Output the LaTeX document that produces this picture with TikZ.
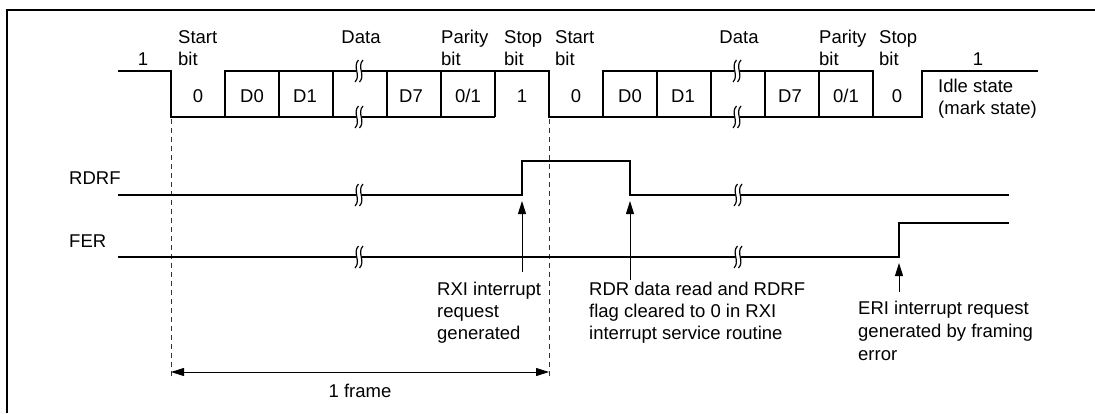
\documentclass[tikz,border=0pt]{standalone}
\usepackage{fontspec}
\setmainfont{Liberation Sans}
\usetikzlibrary{arrows.meta}
\newcommand\brkmark[2]{%
  \fill[white] (#1-3.4,#2-8) rectangle (#1+3.4,#2+8);
  \draw[line width=1.2pt] (#1-0.5,#2-11) .. controls (#1-7,#2-4) and (#1+2.5,#2+4) .. (#1-4,#2+11);
  \draw[line width=1.2pt] (#1+4,#2-11) .. controls (#1-2.5,#2-4) and (#1+7,#2+4) .. (#1+0.5,#2+11);
}
\begin{document}
\begin{tikzpicture}[x=1pt,y=-1pt,
  sig/.style={line width=2.3pt, line join=miter},
  sepline/.style={line width=1.7pt},
  lbl/.style={inner sep=0pt, anchor=base west, font=\fontsize{18.5}{22}\selectfont},
  clbl/.style={inner sep=0pt, anchor=base, font=\fontsize{18.5}{22}\selectfont},
  guide/.style={line width=1pt, dash pattern=on 5pt off 4pt, draw=black!80},
  ptr/.style={line width=1pt, -{Triangle[length=13pt,width=8pt]}},
  dimline/.style={line width=1pt, {Triangle[length=13pt,width=8pt]}-{Triangle[length=13pt,width=8pt]}},
  framebox/.style={line width=2.2pt}
]
\useasboundingbox (0,0) rectangle (1095,413);
% outer frame (top and left only)
\draw[framebox] (7,413) -- (7,10) -- (1095,10);

% ---------- serial data waveform ----------
\draw[sig] (118,71) -- (171,71) -- (171,117) -- (495,117);
\draw[sig] (225,117) -- (225,71) -- (549,71) -- (549,117) -- (922,117) -- (922,71) -- (1038,71);
\draw[sig] (603,117) -- (603,71) -- (873,71) -- (873,117);
\foreach \xx in {279,333,387,441,495,657,711,765,819}
  \draw[sepline] (\xx,71) -- (\xx,117);
\brkmark{359}{71}\brkmark{359}{117}
\brkmark{737}{71}\brkmark{737}{117}

% frame guides
\draw[guide] (171,119) -- (171,377);
\draw[guide] (549,119) -- (549,377);

% ---------- RDRF ----------
\draw[sig] (118,195) -- (522,195) -- (522,161) -- (630,161) -- (630,195) -- (1009,195);
\brkmark{359}{195}\brkmark{738}{195}
% ---------- FER ----------
\draw[sig] (118,257) -- (899,257) -- (899,223) -- (1009,223);
\brkmark{359}{257}\brkmark{738}{257}

% ---------- labels, top ----------
\node[clbl] (one1) at (143,65) {1};
\node[lbl] (st1a) at (178,43) {Start};
\node[lbl] (st1b) at (178,65) {bit};
\node[clbl] (da1) at (361,43) {Data};
\node[lbl] (pa1a) at (441,43) {Parity};
\node[lbl] (pa1b) at (441,65) {bit};
\node[lbl] (sp1a) at (504,43) {Stop};
\node[lbl] (sp1b) at (504,65) {bit};
\node[lbl] (st2a) at (555,43) {Start};
\node[lbl] (st2b) at (555,65) {bit};
\node[clbl] (da2) at (739,43) {Data};
\node[lbl] (pa2a) at (819,43) {Parity};
\node[lbl] (pa2b) at (819,65) {bit};
\node[lbl] (sp2a) at (879,43) {Stop};
\node[lbl] (sp2b) at (879,65) {bit};
\node[clbl] (one2) at (978,65) {1};
\node[lbl] (idle1) at (938,92) {Idle state};
\node[lbl] (idle2) at (938,114) {(mark state)};

% bit values
\node[clbl] (b10) at (198,102) {0};
\node[clbl] (b1d0) at (252,102) {D0};
\node[clbl] (b1d1) at (305,102) {D1};
\node[clbl] (b1d7) at (411,102) {D7};
\node[clbl] (b1p) at (468,102) {0/1};
\node[clbl] (b1s) at (522,102) {1};
\node[clbl] (b20) at (576,102) {0};
\node[clbl] (b2d0) at (630,102) {D0};
\node[clbl] (b2d1) at (683,102) {D1};
\node[clbl] (b2d7) at (790,102) {D7};
\node[clbl] (b2p) at (846,102) {0/1};
\node[clbl] (b2s) at (897,102) {0};

% signal names
\node[lbl] (rdrf) at (69,184) {RDRF};
\node[lbl] (fer) at (69,247) {FER};

% ---------- annotation arrows ----------
\coordinate (rxiTail) at (522,272);
\coordinate (rxiTip) at (522,201);
\coordinate (rdrTail) at (630,280);
\coordinate (rdrTip) at (630,201);
\coordinate (eriTail) at (899,292);
\coordinate (eriTip) at (899,263);
\draw[ptr] (rxiTail) -- (rxiTip);
\draw[ptr] (rdrTail) -- (rdrTip);
\draw[ptr] (eriTail) -- (eriTip);

\node[lbl] (rxi1) at (437,295.5) {RXI interrupt};
\node[lbl] (rxi2) at (437,317.5) {request};
\node[lbl] (rxi3) at (437,339.5) {generated};
\node[lbl] (rdr1) at (589,295.5) {RDR data read and RDRF};
\node[lbl] (rdr2) at (589,317.5) {flag cleared to 0 in RXI};
\node[lbl] (rdr3) at (589,339.5) {interrupt service routine};
\node[lbl] (eri1) at (858,314) {ERI interrupt request};
\node[lbl] (eri2) at (858,337) {generated by framing};
\node[lbl] (eri3) at (858,360) {error};

% 1 frame
\coordinate (fL) at (171,372);
\coordinate (fR) at (549,372);
\draw[dimline] (fL) -- (fR);
\node[clbl] (frm) at (360,397) {1 frame};
\end{tikzpicture}
\end{document}
